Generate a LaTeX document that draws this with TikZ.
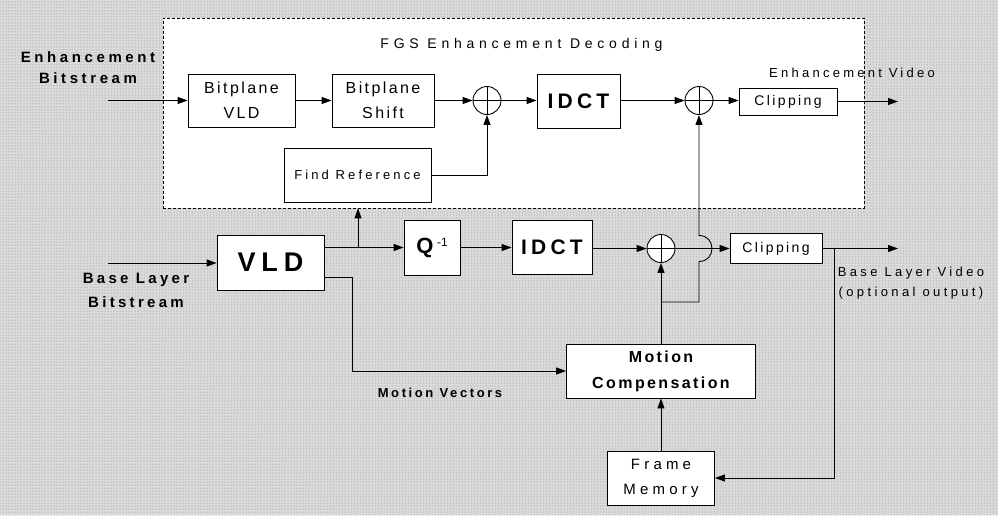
\documentclass[tikz,border=0pt]{standalone}
\usepackage{fontspec}
\setmainfont{Liberation Sans}
\newcommand{\ls}[1]{\addfontfeature{LetterSpace=#1}}
\usetikzlibrary{arrows.meta,patterns}
\begin{document}
\begin{tikzpicture}[x=1pt,y=-1pt,
  box/.style={draw,line width=0.9pt,fill=white,inner sep=0pt,align=center},
  adder/.style={draw,circle,line width=0.9pt,fill=white,minimum size=28pt,inner sep=0pt,
    path picture={\draw[line width=0.9pt] (path picture bounding box.north)--(path picture bounding box.south)
      (path picture bounding box.west)--(path picture bounding box.east);}},
  conn/.style={line width=0.9pt,-{Triangle[length=10pt,width=7pt]}},
  lbl/.style={align=center,inner sep=0pt}]
\useasboundingbox (0,0) rectangle (998,515);
\fill[black!14] (0,0) rectangle (998,515);
\fill[pattern=dots,pattern color=black!50] (0,0) rectangle (998,515);
% enhancement region
\node[draw,dashed,dash pattern=on 3pt off 2pt,line width=0.8pt,fill=white,minimum width=701pt,minimum height=190pt,inner sep=0pt] (enh) at (513.5,113) {};
\node[lbl,font=\fontsize{14}{16}\selectfont\ls{34}] (title) at (521.5,45) {FGS Enhancement Decoding};
% enhancement blocks
\node[box,minimum width=107pt,minimum height=53pt,font=\fontsize{16}{25}\selectfont\ls{15}] (bpvld) at (241.5,100.5) {Bitplane\\VLD};
\node[box,minimum width=102pt,minimum height=53pt,font=\fontsize{16}{25}\selectfont\ls{15}] (bpshift) at (383,100.5) {Bitplane\\Shift};
\node[adder] (add1) at (487,100.5) {};
\node[box,minimum width=147pt,minimum height=54pt,font=\fontsize{13}{15}\selectfont\ls{24}] (findref) at (357.5,175) {Find Reference};
\node[box,minimum width=83pt,minimum height=54pt,font=\bfseries\fontsize{21}{24}\selectfont\ls{20}] (idct1) at (578.5,101) {IDCT};
\node[adder] (add2) at (699,100.5) {};
\node[box,minimum width=98pt,minimum height=27pt,font=\fontsize{14}{16}\selectfont\ls{17}] (clip1) at (788,101.5) {Clipping};
\coordinate (in1) at (108,100.5);
\coordinate (out1) at (898,101.5);
% base layer
\node[box,minimum width=107pt,minimum height=55pt,font=\bfseries\fontsize{27}{30}\selectfont\ls{22}] (vld) at (270.5,262.5) {VLD};
\node[box,minimum width=56pt,minimum height=55pt,font=\bfseries\fontsize{22}{26}\selectfont] (q) at (432,247.5) {Q\,\raisebox{7pt}{\mdseries\fontsize{12}{14}\selectfont -1}};
\node[box,minimum width=80pt,minimum height=54pt,font=\bfseries\fontsize{21}{24}\selectfont\ls{20}] (idct2) at (552,247.5) {IDCT};
\node[adder] (add3) at (661,248.5) {};
\node[box,minimum width=92pt,minimum height=30pt,font=\fontsize{14}{16}\selectfont\ls{17}] (clip2) at (776,248.5) {Clipping};
\node[box,minimum width=189pt,minimum height=54pt,font=\bfseries\fontsize{16}{26}\selectfont\ls{15}] (mc) at (661,371) {\raisebox{-2pt}{Motion}\\\raisebox{-2pt}{Compensation}};
\node[box,minimum width=107pt,minimum height=54pt,font=\fontsize{15}{25}\selectfont\ls{28}] (fm) at (661,478) {Frame\\Memory};
\coordinate (in2) at (108,263);
\coordinate (out2) at (898,248.5);
% labels
\node[lbl,font=\bfseries\fontsize{15}{21}\selectfont\ls{24}] (lenh) at (88,67.5) {Enhancement\\Bitstream};
\node[lbl,font=\bfseries\fontsize{15}{24}\selectfont\ls{22}] (lbase) at (136,290) {Base Layer\\Bitstream};
\node[lbl,font=\fontsize{13}{15}\selectfont\ls{25}] (lev) at (852,73) {Enhancement Video};
\node[lbl,font=\fontsize{13}{20}\selectfont\ls{26}] (lblv) at (911,283) {Base Layer Video\\(optional output)};
\node[lbl,font=\bfseries\fontsize{13}{15}\selectfont\ls{20}] (lmv) at (440,393) {Motion Vectors};
% enhancement connectors
\draw[conn] (in1) -- (bpvld);
\draw[conn] (bpvld) -- (bpshift);
\draw[conn] (bpshift) -- (add1);
\draw[conn] (add1) -- (idct1.west |- add1);
\draw[conn] (idct1.east |- add2) -- (add2);
\draw[conn] (add2) -- (clip1.west |- add2);
\draw[conn] (clip1) -- (out1);
\draw[conn] (findref.east) -| (add1.south);
% base connectors
\draw[conn] (in2) -- (vld.west |- in2);
\draw[conn] (vld.east |- q.west) -- (q.west);
\coordinate (br1) at (358,247.5);
\draw[conn] (br1) -- (br1 |- enh.south);
\draw[conn] ([yshift=-14.5pt]vld.east) -- ++(28,0) |- (mc.west);
\draw[conn] (q) -- (idct2);
\draw[conn] (idct2.east |- add3) -- (add3);
\draw[conn] (add3) -- (clip2.west |- add3);
\draw[conn] (clip2) -- (out2);
\coordinate (br2) at (834,248.5);
\draw[conn] (br2) |- (fm.east);
\draw[conn] (fm) -- (mc);
\draw[conn] (mc) -- (add3);
\coordinate (br3) at (661,302);
\draw[conn] (br3) -- (699,302) -- (699,261.5) .. controls (716.3,261.5) and (716.3,235.5) .. (699,235.5) -- (add2.south);
\end{tikzpicture}
\end{document}
